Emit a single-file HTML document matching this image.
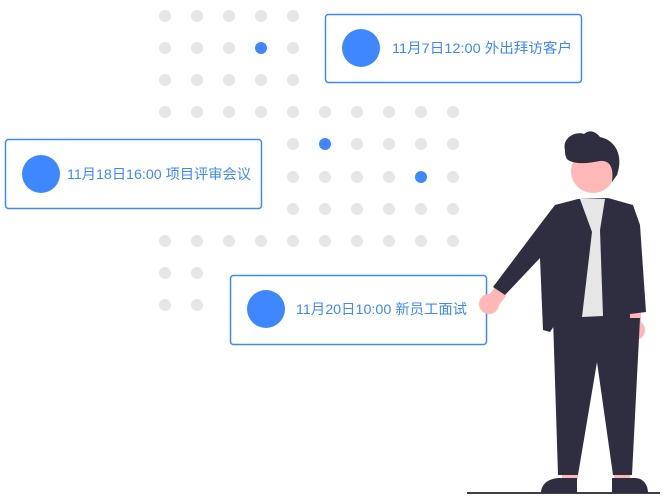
<!DOCTYPE html>
<html><head><meta charset="utf-8"><style>
html,body{margin:0;padding:0;background:#fff;width:663px;height:503px;overflow:hidden}
svg{display:block}
text{font-family:"Liberation Sans","Noto Sans CJK SC",sans-serif;font-size:14px;fill:#3f87ff}
</style></head><body>
<svg width="663" height="503" viewBox="0 0 663 503" xmlns="http://www.w3.org/2000/svg">
<g fill="#e6e6e6">
<circle cx="165" cy="16" r="6"/><circle cx="197" cy="16" r="6"/><circle cx="229" cy="16" r="6"/><circle cx="261" cy="16" r="6"/><circle cx="293" cy="16" r="6"/>
<circle cx="165" cy="48" r="6"/><circle cx="197" cy="48" r="6"/><circle cx="229" cy="48" r="6"/><circle cx="293" cy="48" r="6"/>
<circle cx="165" cy="80" r="6"/><circle cx="197" cy="80" r="6"/><circle cx="229" cy="80" r="6"/><circle cx="261" cy="80" r="6"/><circle cx="293" cy="80" r="6"/>
<circle cx="165" cy="112" r="6"/><circle cx="197" cy="112" r="6"/><circle cx="229" cy="112" r="6"/><circle cx="261" cy="112" r="6"/><circle cx="293" cy="112" r="6"/><circle cx="325" cy="112" r="6"/><circle cx="357" cy="112" r="6"/><circle cx="389" cy="112" r="6"/><circle cx="421" cy="112" r="6"/><circle cx="453" cy="112" r="6"/>
<circle cx="293" cy="144" r="6"/><circle cx="357" cy="144" r="6"/><circle cx="389" cy="144" r="6"/><circle cx="421" cy="144" r="6"/><circle cx="453" cy="144" r="6"/>
<circle cx="293" cy="177" r="6"/><circle cx="325" cy="177" r="6"/><circle cx="357" cy="177" r="6"/><circle cx="389" cy="177" r="6"/><circle cx="453" cy="177" r="6"/>
<circle cx="293" cy="209" r="6"/><circle cx="325" cy="209" r="6"/><circle cx="357" cy="209" r="6"/><circle cx="389" cy="209" r="6"/><circle cx="421" cy="209" r="6"/><circle cx="453" cy="209" r="6"/>
<circle cx="165" cy="241" r="6"/><circle cx="197" cy="241" r="6"/><circle cx="229" cy="241" r="6"/><circle cx="261" cy="241" r="6"/><circle cx="293" cy="241" r="6"/><circle cx="325" cy="241" r="6"/><circle cx="357" cy="241" r="6"/><circle cx="389" cy="241" r="6"/><circle cx="421" cy="241" r="6"/><circle cx="453" cy="241" r="6"/>
<circle cx="165" cy="273" r="6"/><circle cx="197" cy="273" r="6"/>
<circle cx="165" cy="305" r="6"/><circle cx="197" cy="305" r="6"/>
</g>
<g fill="#3f87ff">
<circle cx="261" cy="48" r="6"/><circle cx="325" cy="144" r="6"/><circle cx="421" cy="177" r="6"/>
</g>
<rect x="325.5" y="14.5" width="256" height="68" rx="3" fill="#fff" stroke="#3f87ff" stroke-width="1.5"/>
<circle cx="361" cy="48" r="19" fill="#3f87ff"/>
<text x="392" y="53" textLength="180" lengthAdjust="spacingAndGlyphs">11月7日12:00 外出拜访客户</text>
<rect x="5.5" y="139.5" width="256" height="69" rx="3" fill="#fff" stroke="#3f87ff" stroke-width="1.5"/>
<circle cx="41" cy="174" r="19" fill="#3f87ff"/>
<text x="67" y="179" textLength="184" lengthAdjust="spacingAndGlyphs">11月18日16:00 项目评审会议</text>
<rect x="230.5" y="275.5" width="256" height="69" rx="3" fill="#fff" stroke="#3f87ff" stroke-width="1.5"/>
<circle cx="266" cy="309" r="19" fill="#3f87ff"/>
<text x="296" y="314" textLength="171" lengthAdjust="spacingAndGlyphs">11月20日10:00 新员工面试</text>
<line x1="467" y1="493" x2="660" y2="493" stroke="#3f3d56" stroke-width="2"/>
<circle cx="489" cy="304" r="10" fill="#ffb8b8"/>
<path d="M485 300 L496 286 L506 296 L495 310 Z" fill="#ffb8b8"/>
<circle cx="635" cy="330" r="10" fill="#ffb8b8"/>
<rect x="629" y="310" width="12" height="18" fill="#ffb8b8"/>
<rect x="562" y="465" width="16" height="14" fill="#ffb8b8"/>
<rect x="614" y="465" width="16" height="14" fill="#ffb8b8"/>
<path d="M553 318 L640 318 L632 475 L613 475 L597 362 L578 475 L558 475 Z" fill="#2f2e41"/>
<path d="M578 199 L555 205 L545 218 L493 287 L505 295 L540 258 L543 330 L550 332 L558 320 L630 318 L630 314 L646 312 L640 225 L633 205 L608 198 Z" fill="#2f2e41"/>
<path d="M580 199 L605 199 L600 230 L603 316 L582 317 L592 232 Z" fill="#e6e6e6"/>
<path d="M541 493 C541 483 550 478 560 478 L577 478 L577 493 Z" fill="#2f2e41"/>
<path d="M612 478 L635 478 C644 478 648 486 648 493 L612 493 Z" fill="#2f2e41"/>
<circle cx="593" cy="171" r="22" fill="#ffb8b8"/>
<path d="M565 150 C562 138 575 131 584 134 C590 129 596 132 600 137 C615 140 624 155 617 175 L612 182 C614 168 610 160 600 161 C590 163 576 165 568 160 C565 157 565 153 565 150 Z" fill="#2f2e41"/>
</svg>
</body></html>
